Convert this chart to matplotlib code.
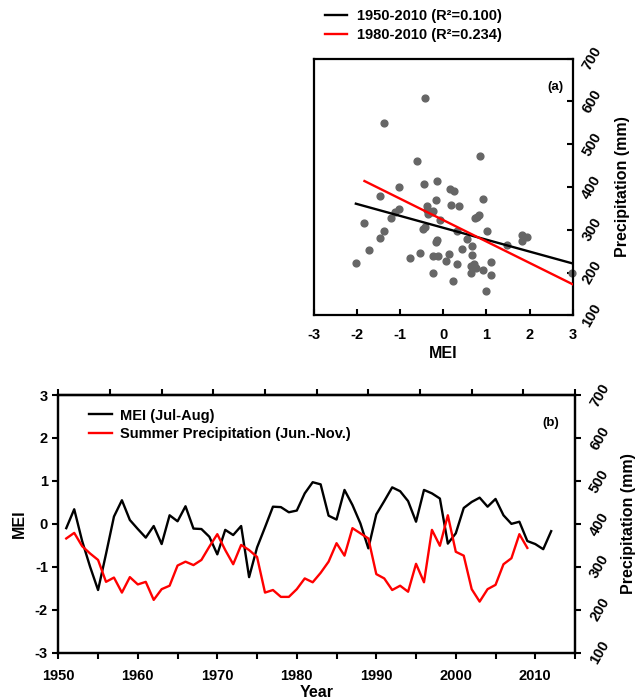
import numpy as np
import matplotlib
matplotlib.use("Agg")
import matplotlib.pyplot as plt

plt.rcParams['font.family'] = ['Liberation Sans', 'DejaVu Sans']
plt.rcParams['font.weight'] = 'bold'
plt.rcParams['axes.unicode_minus'] = False

# --- panel (a): MEI vs summer precipitation ---
mei_a = [-2.03, -1.83, -1.72, -1.46, -1.38, -1.37, -1.48, -1.22, -1.12, -1.04,
         -1.04, -0.78, -0.62, -0.55, -0.46, -0.43, -0.48, -0.43, -0.39, -0.37,
         -0.35, -0.24, -0.26, -0.23, -0.23, -0.18, -0.18, -0.15, -0.14, -0.13,
         -0.08, 0.07, 0.12, 0.15, 0.18, 0.25, 0.22, 0.32, 0.37, 0.43,
         0.31, 0.54, 0.66, 0.66, 0.64, 0.65, 0.70, 0.75, 0.73, 0.83,
         0.85, 0.93, 0.92, 1.01, 1.00, 1.11, 1.11, 1.48, 1.82, 1.83,
         1.93, 2.99, 0.77]
precip_a = [222, 315, 252, 379, 549, 298, 280, 327, 342, 348,
            399, 235, 461, 246, 407, 608, 301, 307, 356, 346,
            338, 344, 341, 239, 200, 370, 271, 275, 413, 239,
            323, 226, 243, 395, 358, 391, 180, 219, 356, 254,
            298, 279, 261, 240, 216, 200, 219, 210, 328, 334,
            472, 373, 206, 297, 156, 225, 194, 265, 288, 273,
            282, 200, 330]

# regression lines: intercept, slope, MEI range
fit_labels = ['1950-2010 (R²=0.100)', '1980-2010 (R²=0.234)']
fit_colors = ['black', 'red']
fit_intercept = [304.6, 322.5]
fit_slope = [-27.8, -50.0]
fit_xmin = [-2.03, -1.83]
fit_xmax = [3.0, 3.0]

# --- panel (b): time series ---
years_mei = list(range(1951, 2013))
mei_b = [-0.10, 0.34, -0.40, -1.00, -1.54, -0.70, 0.17, 0.55, 0.09, -0.12,
         -0.32, -0.05, -0.47, 0.20, 0.06, 0.41, -0.11, -0.12, -0.30, -0.71,
         -0.14, -0.26, -0.05, -1.24, -0.55, -0.08, 0.40, 0.39, 0.27, 0.31,
         0.71, 0.97, 0.92, 0.19, 0.10, 0.79, 0.44, 0.01, -0.57, 0.22,
         0.53, 0.85, 0.76, 0.53, 0.05, 0.79, 0.71, 0.59, -0.46, -0.22,
         0.37, 0.51, 0.61, 0.40, 0.58, 0.20, 0.00, 0.05, -0.40, -0.47,
         -0.59, -0.17]
years_p = list(range(1951, 2010))
precip_b = [366, 379, 348, 331, 316, 265, 275, 240, 276, 259,
            265, 223, 248, 256, 303, 312, 304, 316, 347, 376,
            339, 306, 351, 339, 323, 240, 246, 230, 230, 248,
            273, 264, 286, 312, 355, 326, 390, 378, 366, 283,
            273, 246, 256, 242, 307, 264, 386, 349, 420, 335,
            326, 248, 219, 248, 258, 306, 320, 376, 344]

fig = plt.figure(figsize=(6.38, 6.99), dpi=100)

# ---------- (a) ----------
ax1 = fig.add_axes([0.4922, 0.5489, 0.4055, 0.3671])
ax1.scatter(mei_a, precip_a, s=24, color='#666666', zorder=2, clip_on=False)
handles = []
for lab, col, a, b, x0, x1 in zip(fit_labels, fit_colors, fit_intercept, fit_slope, fit_xmin, fit_xmax):
    xs = np.array([x0, x1])
    h, = ax1.plot(xs, a + b * xs, color=col, lw=1.7, label=lab, zorder=3)
    handles.append(h)
ax1.set_xlim(-3, 3)
ax1.set_ylim(100, 700)
ax1.set_xticks(range(-3, 4))
ax1.set_yticks(range(100, 701, 100))
ax1.yaxis.tick_right()
ax1.tick_params(axis='both', direction='in', length=4, width=1.5, labelsize=10.5)
ax1.tick_params(axis='x', pad=9)
ax1.tick_params(axis='y', pad=5)
for t in ax1.get_yticklabels():
    t.set_rotation(60)
    t.set_va('center')
ax1.set_xlabel('MEI', fontsize=11.5, fontweight='bold', labelpad=3)
ax1.set_ylabel('Precipitation (mm)', fontsize=11.5, fontweight='bold', rotation=90,
               ha='center', va='center')
ax1.yaxis.set_label_coords(1.194, 0.5)
for sp in ax1.spines.values():
    sp.set_linewidth(1.6)
ax1.text(0.965, 0.89, '(a)', transform=ax1.transAxes, ha='right', va='center', fontsize=9.5, fontweight='bold')
fig.legend(handles=handles, loc='upper left', bbox_to_anchor=(0.501, 0.995), frameon=False,
           fontsize=10.5, handlelength=1.5, handletextpad=0.65, labelspacing=0.35, borderaxespad=0)

# ---------- (b) ----------
ax2 = fig.add_axes([0.0914, 0.0662, 0.8099, 0.3687])
l1, = ax2.plot(years_mei, mei_b, color='black', lw=1.7, label='MEI (Jul-Aug)')
ax2.set_xlim(1950, 2015)
ax2.set_ylim(-3, 3)
ax2.set_xticks(range(1950, 2016, 10))
ax2.set_xticks(range(1955, 2016, 10), minor=True)
ax2.set_yticks(range(-3, 4))
ax2.tick_params(axis='both', which='both', direction='out', length=4, width=1.5, labelsize=10.5)
ax2.tick_params(axis='x', pad=8)
ax2.set_xlabel('Year', fontsize=11.5, fontweight='bold', labelpad=1)
ax2.set_ylabel('MEI', fontsize=11.5, fontweight='bold', labelpad=6)

ax3 = ax2.twinx()
l2, = ax3.plot(years_p, precip_b, color='red', lw=1.7, label='Summer Precipitation (Jun.-Nov.)')
ax3.set_ylim(100, 700)
ax3.set_yticks(range(100, 701, 100))
ax3.tick_params(axis='y', direction='out', length=4, width=1.5, labelsize=10.5, pad=5)
for t in ax3.get_yticklabels():
    t.set_rotation(60)
    t.set_va('center')
ax3.set_ylabel('Precipitation (mm)', fontsize=11.5, fontweight='bold', rotation=90,
               ha='center', va='center')
ax3.yaxis.set_label_coords(1.1035, 0.5)

top = ax2.secondary_xaxis('top')
top.set_xticks(np.linspace(1950, 2015, 11))
top.set_xticklabels([])
top.tick_params(direction='out', length=4, width=1.5)

for a in (ax2, ax3, top):
    for sp in a.spines.values():
        sp.set_linewidth(1.6)

ax2.legend(handles=[l1, l2], loc='upper left', bbox_to_anchor=(0.048, 0.97), frameon=False,
           fontsize=10.5, handlelength=1.6, handletextpad=0.55, labelspacing=0.3, borderaxespad=0)
ax2.text(0.97, 0.89, '(b)', transform=ax2.transAxes, ha='right', va='center', fontsize=9.5, fontweight='bold')

fig.savefig('out.png', dpi=100)
